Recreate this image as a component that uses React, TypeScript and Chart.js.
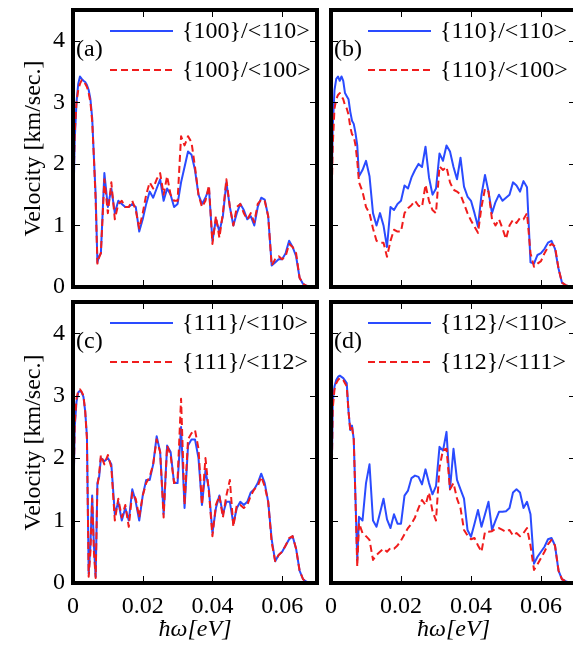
import React, { useEffect, useRef } from 'react';
import { Chart, registerables } from 'chart.js';
Chart.register(...registerables);

const FONT = 'Liberation Serif';

// photon energy grid (eV)
const X = [
  0, 0.0005, 0.001, 0.0015, 0.002, 0.0025, 0.003, 0.0035, 0.004, 0.0045, 0.005, 0.0055, 0.006, 0.0065, 0.007, 0.0075, 0.008,
  0.009, 0.010, 0.011, 0.012, 0.013, 0.014, 0.015, 0.016, 0.017, 0.018,
  0.019, 0.020, 0.021, 0.022, 0.023, 0.024, 0.025, 0.026, 0.027, 0.028,
  0.029, 0.030, 0.031, 0.032, 0.033, 0.034, 0.035, 0.036, 0.037, 0.038,
  0.039, 0.040, 0.041, 0.042, 0.043, 0.044, 0.045, 0.046, 0.047, 0.048,
  0.049, 0.050, 0.051, 0.052, 0.053, 0.054, 0.055, 0.056, 0.057, 0.058,
  0.059, 0.060, 0.061, 0.062, 0.063, 0.064, 0.065, 0.066, 0.067, 0.068,
];

// (a) {100}
const A_110 = [
  1.05, 2.4, 3.0, 3.3, 3.42, 3.38, 3.35, 3.33, 3.28, 3.2, 3.05, 2.75, 2.1, 1.5, 0.4, 0.5, 0.55,
  1.85, 1.3, 1.6, 1.2, 1.4, 1.35, 1.3, 1.3, 1.35, 1.3,
  0.9, 1.1, 1.35, 1.55, 1.45, 1.6, 1.75, 1.4, 1.6, 1.5,
  1.3, 1.35, 1.7, 1.95, 2.2, 2.15, 1.9, 1.5, 1.35, 1.45,
  1.6, 0.75, 1.1, 0.9, 1.15, 1.7, 1.3, 1.0, 1.2, 1.35,
  1.25, 1.1, 1.15, 1.0, 1.3, 1.45, 1.42, 1.15, 0.35, 0.4,
  0.45, 0.45, 0.55, 0.75, 0.65, 0.5, 0.15, 0.05, 0.02, 0.0,
];
const A_100 = [
  1.3, 2.5, 3.0, 3.2, 3.3, 3.36, 3.35, 3.3, 3.25, 3.15, 3.0, 2.7, 2.1, 1.4, 0.38, 0.48, 0.55,
  1.75, 1.2, 1.7, 1.1, 1.35, 1.4, 1.3, 1.3, 1.4, 1.25,
  0.95, 1.2, 1.5, 1.7, 1.6, 1.75, 1.85, 1.5, 1.8, 1.5,
  1.4, 1.4, 2.45, 2.3, 2.45, 2.35, 1.95, 1.5, 1.3, 1.4,
  1.65, 0.7, 1.15, 0.8, 1.2, 1.75, 1.3, 1.0, 1.3, 1.35,
  1.2, 1.1, 1.2, 1.05, 1.35, 1.42, 1.4, 1.15, 0.35, 0.45,
  0.5, 0.45, 0.5, 0.7, 0.65, 0.55, 0.15, 0.05, 0.02, 0.0,
];

// (b) {110}
const B_110 = [
  1.1, 2.6, 3.2, 3.38, 3.42, 3.35, 3.42, 3.35, 3.15, 3.1, 3.05, 2.85, 2.7, 2.65, 2.5, 2.3, 1.8,
  1.9, 2.05, 1.8, 1.2, 1.0, 1.2, 1.0, 0.65, 1.3, 1.25,
  1.35, 1.4, 1.65, 1.6, 1.78, 1.9, 2.0, 1.95, 2.28, 1.78,
  1.5, 1.6, 2.17, 2.05, 2.3, 2.2, 1.95, 1.75, 2.1, 1.63,
  1.47, 1.4, 1.2, 0.98, 1.5, 1.82, 1.55, 1.2, 1.38, 1.5,
  1.4, 1.45, 1.5, 1.7, 1.65, 1.55, 1.72, 1.62, 0.4, 0.38,
  0.52, 0.55, 0.62, 0.72, 0.75, 0.62, 0.3, 0.07, 0.03, 0.01,
];
const B_100 = [
  0.93, 2.3, 2.9, 3.05, 3.12, 3.15, 3.1, 3.05, 2.95, 2.9, 2.8, 2.6, 2.48, 2.45, 2.3, 2.05, 1.7,
  1.55, 1.3, 1.2, 0.95, 0.75, 0.72, 0.72, 0.49, 0.75, 0.93,
  0.9, 0.9, 1.2, 1.28, 1.33, 1.4, 1.32, 1.3, 1.66, 1.4,
  1.25, 1.2, 1.96, 1.9, 1.95, 1.7, 1.58, 1.55, 1.5, 1.35,
  1.2, 1.08, 0.98, 0.88, 1.3, 1.6, 1.55, 1.1, 1.0, 1.1,
  0.95, 0.78, 1.0, 1.09, 1.04, 1.12, 1.1, 1.2, 0.55, 0.33,
  0.38, 0.42, 0.55, 0.65, 0.7, 0.66, 0.3, 0.07, 0.03, 0.01,
];

// (c) {111}
const C_110 = [
  1.0, 2.5, 2.9, 3.05, 3.08, 3.05, 2.98, 2.75, 2.35, 0.15, 0.6, 1.4, 0.6, 0.1, 1.6, 1.7, 2.0,
  1.95, 2.0, 1.9, 1.1, 1.3, 1.0, 1.2, 1.0, 1.5, 1.3,
  1.0, 1.4, 1.65, 1.65, 1.9, 2.35, 2.1, 1.1, 2.2, 2.1,
  1.6, 1.6, 2.5, 1.2, 2.2, 2.3, 2.3, 2.0, 1.25, 1.8,
  1.5, 0.8, 1.2, 1.4, 1.1, 1.3, 1.3, 0.95, 1.2, 1.3,
  1.25, 1.3, 1.45, 1.5, 1.6, 1.75, 1.6, 1.3, 0.7, 0.35,
  0.45, 0.5, 0.6, 0.7, 0.75, 0.55, 0.2, 0.06, 0.02, 0.0,
];
const C_112 = [
  1.0, 2.55, 2.95, 3.08, 3.1, 3.06, 3.0, 2.75, 2.3, 0.1, 0.5, 1.35, 0.5, 0.08, 1.55, 1.75, 2.05,
  1.9, 2.05, 1.85, 1.0, 1.35, 1.05, 1.25, 0.9, 1.45, 1.35,
  1.05, 1.4, 1.6, 1.7, 1.9, 2.3, 2.1, 1.05, 2.2, 2.05,
  1.6, 1.65, 2.95, 1.25, 2.3, 2.4, 2.45, 2.15, 1.25, 2.0,
  1.45, 0.75, 1.25, 1.4, 1.05, 1.4, 1.65, 0.9, 1.25, 1.25,
  1.2, 1.25, 1.4, 1.5, 1.55, 1.7, 1.55, 1.3, 0.65, 0.35,
  0.45, 0.5, 0.6, 0.72, 0.75, 0.55, 0.2, 0.06, 0.02, 0.0,
];

// (d) {112}
const D_110 = [
  0.9, 2.9, 3.15, 3.25, 3.3, 3.32, 3.3, 3.28, 3.24, 3.2, 2.75, 2.45, 2.52, 2.3, 1.35, 0.37, 1.06,
  1.0, 1.6, 1.9, 1.0, 0.9, 1.12, 1.35, 1.02, 0.88, 1.1,
  0.95, 0.95, 1.4, 1.48, 1.68, 1.72, 1.7, 1.58, 1.82, 1.6,
  1.42, 1.55, 2.18, 2.12, 2.42, 1.5, 2.15, 1.65, 1.5, 1.35,
  0.85, 0.74, 0.95, 1.17, 0.9, 1.1, 1.3, 0.85, 1.0, 1.14,
  1.14, 1.15, 1.2, 1.45, 1.5, 1.45, 1.2, 1.3, 1.1, 0.31,
  0.42, 0.5, 0.58, 0.7, 0.72, 0.6, 0.2, 0.06, 0.03, 0.01,
];
const D_111 = [
  0.9, 2.8, 3.1, 3.2, 3.25, 3.28, 3.27, 3.25, 3.2, 3.15, 2.75, 2.45, 2.5, 2.3, 1.3, 0.26, 0.96,
  0.8, 0.75, 0.69, 0.37, 0.45, 0.5, 0.55, 0.5, 0.56, 0.55,
  0.6, 0.68, 0.78, 0.88, 0.95, 1.05, 1.2, 1.33, 1.25, 1.45,
  1.15, 1.0, 1.85, 2.13, 2.15, 1.5, 1.6, 1.35, 1.2, 0.85,
  0.76, 0.7, 0.72, 0.6, 0.5, 0.82, 0.82, 0.83, 0.87, 0.88,
  0.85, 0.82, 0.85, 0.76, 0.8, 0.75, 0.8, 0.88, 0.6, 0.21,
  0.3, 0.4, 0.5, 0.62, 0.69, 0.6, 0.2, 0.06, 0.03, 0.01,
];

const X_TICKS = [0, 0.02, 0.04, 0.06];
const X_TICK_LABELS = ['0', '0.02', '0.04', '0.06'];
const Y_TICKS = [0, 1, 2, 3, 4];
const Y_TICK_LABELS = ['0', '1', '2', '3', '4'];

const Y_TITLE = 'Velocity [km/sec.]';
const X_TITLE = 'ħω[eV]';

const BLUE = '#2a4bff';
const RED = '#f01c1c';

// canvas boxes: left column 0..324, right 324..581; top row 0..295, bottom 295..664
const COL_W = [324, 257];
const ROW_H = [295, 369];

const PANELS = [
  { tag: '(a)', names: ['{100}/<110>', '{100}/<100>'], blue: A_110, red: A_100,
    col: 0, row: 0, left: 73, top: 10, right: 317, bottom: 287, yLabels: true, xLabels: false },
  { tag: '(b)', names: ['{110}/<110>', '{110}/<100>'], blue: B_110, red: B_100,
    col: 1, row: 0, left: 7, top: 10, right: 252, bottom: 287, yLabels: false, xLabels: false },
  { tag: '(c)', names: ['{111}/<110>', '{111}/<112>'], blue: C_110, red: C_112,
    col: 0, row: 1, left: 73, top: 7, right: 317, bottom: 288, yLabels: true, xLabels: true },
  { tag: '(d)', names: ['{112}/<110>', '{112}/<111>'], blue: D_110, red: D_111,
    col: 1, row: 1, left: 7, top: 7, right: 252, bottom: 288, yLabels: false, xLabels: true },
];

const framePlugin = {
  id: 'panelFrame',
  afterDraw(chart: any, _args: any, opts: any) {
    const { ctx, chartArea } = chart;
    const { left, top, right, bottom } = chartArea;
    const xs = chart.scales.x;
    const ys = chart.scales.y;
    ctx.save();
    ctx.strokeStyle = '#000';
    ctx.lineWidth = 1;
    ctx.beginPath();
    X_TICKS.forEach((v) => {
      const p = Math.round(xs.getPixelForValue(v)) + 0.5;
      ctx.moveTo(p, bottom); ctx.lineTo(p, bottom - 7);
      ctx.moveTo(p, top); ctx.lineTo(p, top + 7);
    });
    Y_TICKS.forEach((v) => {
      const p = Math.round(ys.getPixelForValue(v)) + 0.5;
      ctx.moveTo(left, p); ctx.lineTo(left + 7, p);
      ctx.moveTo(right, p); ctx.lineTo(right - 7, p);
    });
    ctx.stroke();
    ctx.lineWidth = 4;
    ctx.strokeRect(left, top, right - left, bottom - top);

    ctx.fillStyle = '#000';
    ctx.font = '24px "Liberation Serif"';
    ctx.textBaseline = 'middle';
    ctx.textAlign = 'left';
    ctx.fillText(opts.tag, left + 3, top + 40);

    chart.data.datasets.forEach((ds: any, i: number) => {
      const y = top + 21 + i * 39;
      ctx.beginPath();
      ctx.strokeStyle = ds.borderColor;
      ctx.lineWidth = 2;
      ctx.setLineDash(ds.borderDash || []);
      ctx.moveTo(left + 37, y);
      ctx.lineTo(left + 100, y);
      ctx.stroke();
      ctx.setLineDash([]);
      ctx.fillStyle = '#000';
      ctx.fillText(ds.label, left + 109, y + 1);
    });
    ctx.restore();
  },
};

function makeConfig(p: any): any {
  const cw = COL_W[p.col];
  const ch = ROW_H[p.row];
  const yW = p.yLabels ? 73 : 6;
  const xH = p.xLabels ? 80 : 6;
  const tickFont = { family: FONT, size: 24 };
  return {
    type: 'line',
    data: {
      datasets: [
        {
          label: p.names[0],
          data: X.map((x, i) => ({ x, y: p.blue[i] })),
          borderColor: BLUE,
          borderWidth: 2,
          pointRadius: 0,
          borderJoinStyle: 'round',
          order: 2,
        },
        {
          label: p.names[1],
          data: X.map((x, i) => ({ x, y: p.red[i] })),
          borderColor: RED,
          borderWidth: 2,
          borderDash: [7, 4],
          pointRadius: 0,
          borderJoinStyle: 'round',
          order: 1,
        },
      ],
    },
    options: {
      responsive: false,
      animation: false,
      layout: {
        padding: {
          left: p.left - yW,
          top: p.top,
          right: cw - p.right,
          bottom: ch - p.bottom - xH,
        },
      },
      plugins: {
        legend: { display: false },
        tooltip: { enabled: false },
        panelFrame: { tag: p.tag },
      },
      scales: {
        x: {
          type: 'linear',
          min: 0,
          max: 0.07,
          grid: { display: false, drawTicks: false },
          border: { display: false },
          ticks: {
            display: p.xLabels,
            autoSkip: false,
            maxRotation: 0,
            padding: 9,
            color: '#000',
            font: tickFont,
            callback: (_v: any, i: number) => X_TICK_LABELS[i],
          },
          title: {
            display: p.xLabels,
            text: X_TITLE,
            color: '#000',
            font: { family: FONT, size: 24, style: 'italic' },
            padding: { top: 0, bottom: 19 },
          },
          afterBuildTicks: (s: any) => { s.ticks = X_TICKS.map((v) => ({ value: v })); },
          afterFit: (s: any) => {
            s.height = xH;
            s.paddingLeft = 0; s.paddingRight = 0; s.paddingTop = 0; s.paddingBottom = 0;
          },
        },
        y: {
          type: 'linear',
          min: 0,
          max: 4.5,
          grid: { display: false, drawTicks: false },
          border: { display: false },
          ticks: {
            display: p.yLabels,
            padding: 8,
            color: '#000',
            font: tickFont,
            callback: (_v: any, i: number) => Y_TICK_LABELS[i],
          },
          title: {
            display: p.yLabels,
            text: Y_TITLE,
            color: '#000',
            font: { family: FONT, size: 24 },
            padding: { top: 19, bottom: 0 },
          },
          afterBuildTicks: (s: any) => { s.ticks = Y_TICKS.map((v) => ({ value: v })); },
          afterFit: (s: any) => {
            s.width = yW;
            s.paddingLeft = 0; s.paddingRight = 0; s.paddingTop = 0; s.paddingBottom = 0;
          },
        },
      },
    },
    plugins: [framePlugin],
  };
}

export default function App() {
  const r0 = useRef<HTMLCanvasElement>(null);
  const r1 = useRef<HTMLCanvasElement>(null);
  const r2 = useRef<HTMLCanvasElement>(null);
  const r3 = useRef<HTMLCanvasElement>(null);
  const refs = [r0, r1, r2, r3];

  useEffect(() => {
    const charts = PANELS.map((p, i) => new Chart(refs[i].current as HTMLCanvasElement, makeConfig(p)));
    return () => charts.forEach((c) => c.destroy());
  }, []);

  const cell = (i: number) => {
    const p = PANELS[i];
    return <canvas ref={refs[i]} width={COL_W[p.col]} height={ROW_H[p.row]} />;
  };

  return (
    <div style={{ marginTop: -8, marginLeft: -8, width: 581 }}>
      <div style={{ display: 'flex', height: ROW_H[0] }}>
        {cell(0)}
        {cell(1)}
      </div>
      <div style={{ display: 'flex', height: ROW_H[1] }}>
        {cell(2)}
        {cell(3)}
      </div>
    </div>
  );
}
